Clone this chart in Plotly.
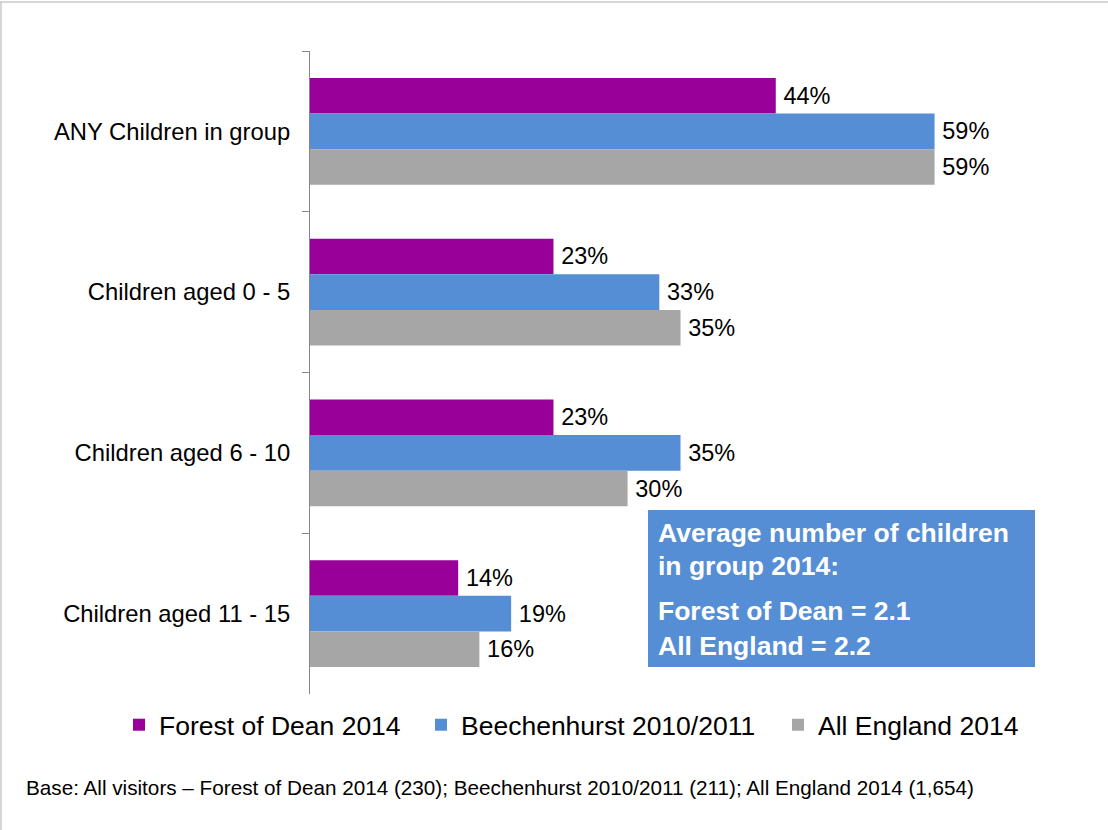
import plotly.graph_objects as go

categories = ["ANY Children in group", "Children aged 0 - 5", "Children aged 6 - 10", "Children aged 11 - 15"]
series_names = ["Forest of Dean 2014", "Beechenhurst 2010/2011", "All England 2014"]
forest_2014 = [44, 23, 23, 14]
beechenhurst = [59, 33, 35, 19]
england_2014 = [59, 35, 30, 16]
colors = ["#990099", "#558ED5", "#A6A6A6"]

box_lines = ["Average number of children", "in group 2014:", "Forest of Dean = 2.1", "All England = 2.2"]
footnote = "Base: All visitors \u2013 Forest of Dean 2014 (230); Beechenhurst 2010/2011 (211); All England 2014 (1,654)"

W, H = 1108, 830
L, R, T, B = 310, 57, 51, 136
pw, ph = W - L - R, H - T - B

def px(x):
    return (x - L) / pw

def py(y):
    return (H - B - y) / ph

FONT = "Liberation Sans, Arial, sans-serif"
legend_ids = ["legend", "legend2", "legend3"]
legend_left = [133, 435, 792]  # pixel x of each legend square

fig = go.Figure()
for name, vals, col, lid in zip(series_names, [forest_2014, beechenhurst, england_2014], colors, legend_ids):
    fig.add_trace(go.Bar(
        y=categories, x=vals, name=name, orientation="h",
        marker=dict(color=col, line=dict(width=0)),
        text=[f"\u2009{v}%" for v in vals], textposition="outside",
        textfont=dict(size=23.5, color="#000000", family=FONT),
        cliponaxis=False, legend=lid,
    ))

fig.update_layout(
    width=W, height=H,
    margin=dict(l=L, r=R, t=T, b=B, autoexpand=False),
    paper_bgcolor="white", plot_bgcolor="white",
    barmode="group", bargap=0.335, bargroupgap=0,
    font=dict(family=FONT, color="#000000"),
    xaxis=dict(range=[0, 70], visible=False, showgrid=False, zeroline=False),
    yaxis=dict(autorange="reversed", showline=True, linecolor="#868686", linewidth=1,
               ticks="outside", tickson="boundaries", ticklen=7, tickcolor="#868686",
               tickfont=dict(size=23.8, family=FONT, color="#000000"),
               ticklabelstandoff=14, showgrid=False, zeroline=False),
    showlegend=True,
)

for lid, lx in zip(legend_ids, legend_left):
    fig.update_layout({lid: dict(
        orientation="h", xref="paper", yref="paper",
        x=px(lx - 14), xanchor="left", y=py(725), yanchor="middle",
        font=dict(size=26.5, family=FONT, color="#000000"),
        bgcolor="rgba(0,0,0,0)", borderwidth=0,
    )})

shapes = [
    dict(type="rect", xref="paper", yref="paper", x0=px(648), x1=px(1035), y0=py(667), y1=py(510),
         fillcolor="#558ED5", line=dict(width=0), layer="above"),
    dict(type="line", xref="paper", yref="paper", x0=px(0), x1=px(1108), y0=py(2), y1=py(2),
         line=dict(color="#C8C8C8", width=1.5)),
    dict(type="line", xref="paper", yref="paper", x0=px(1), x1=px(1), y0=py(2), y1=py(830),
         line=dict(color="#C8C8C8", width=1.5)),
]
fig.update_layout(shapes=shapes)

line_y = [533, 566, 611, 646]
for txt, yy in zip(box_lines, line_y):
    fig.add_annotation(xref="paper", yref="paper", x=px(656), y=py(yy), xanchor="left", yanchor="middle",
                       text=f"<b>{txt}</b>", showarrow=False,
                       font=dict(size=26.5, color="white", family=FONT))

fig.add_annotation(xref="paper", yref="paper", x=px(24), y=py(787), xanchor="left", yanchor="middle",
                   text=footnote, showarrow=False, font=dict(size=20.7, color="#000000", family=FONT))

fig.write_html("out.html")
